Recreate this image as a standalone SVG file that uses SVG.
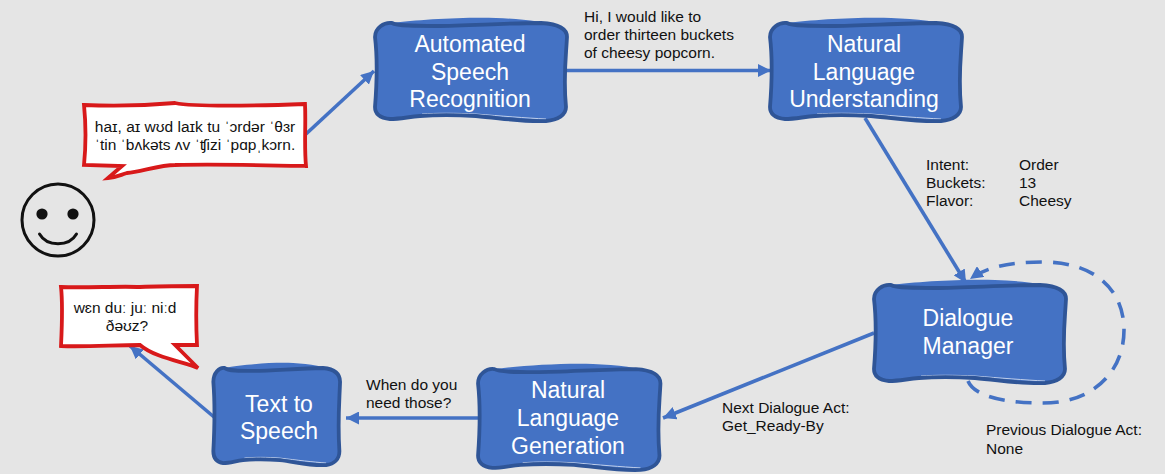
<svg xmlns="http://www.w3.org/2000/svg" width="1165" height="474" viewBox="0 0 1165 474">
<style>
text{font-family:"Liberation Sans",Arial,sans-serif}
.n{font-size:23px;fill:#fff;text-anchor:middle}
.l{font-size:15.500px;fill:#111}
.i{font-size:15.500px;fill:#111;text-anchor:middle}
.c{fill:none;stroke:#4472c4;stroke-width:3.600}
.b{fill:#fff;stroke:#d8191a;stroke-width:3.800;stroke-linejoin:miter}
.bf{fill:#4472c4}
.bs{fill:none;stroke:#2f5597;stroke-width:3.800;vector-effect:non-scaling-stroke}
.bw{fill:none;stroke:#f4f6fa;stroke-width:1;opacity:.7;vector-effect:non-scaling-stroke}
</style>
<defs>
<marker id="a" markerUnits="userSpaceOnUse" markerWidth="14" markerHeight="13" refX="13" refY="6.500" orient="auto"><path d="M0 0L13 6.500L0 13Z" fill="#4472c4"/></marker>
<g id="blob">
<path class="bf" d="M-1 15C-1 6 8 0 16 1C40 -2 85 -5 120 -4C145 -3 170 -1 185 6C190 9 191 12 191 15C190 35 187 55 190 85C190 93 182 98 170 99C145 100 125 95 100 93C80 92 60 92 44 93C32 94 24 97 14 97C4 96 -1 92 -1 85C1 60 2 40 -1 15Z"/>
<path class="bw" d="M46 92C60 91 80 91 100 92C125 94 150 96 170 97"/>
<path class="bs" d="M-1 15C-1 6 8 0 16 1C21 4 40 4 60 4C90 4 130 1 165 1C182 2 191 6 191 15C190 35 187 55 190 85C190 93 182 98 170 99C145 100 125 96 100 94C80 93 60 93 44 94C32 95 24 97 14 97C4 96 -1 92 -1 85C1 60 2 40 -1 15Z"/>
</g>
</defs>
<rect width="1165" height="474" fill="#e5e5e5"/>
<g id="connectors">
<path class="c" marker-end="url(#a)" d="M306 134L374 71"/>
<path class="c" marker-end="url(#a)" d="M566 70.500L771 70.500"/>
<path class="c" marker-end="url(#a)" d="M865 118L966 283"/>
<path class="c" marker-end="url(#a)" d="M874 333L663 418"/>
<path class="c" marker-end="url(#a)" d="M478 418L346 418"/>
<path class="c" marker-end="url(#a)" d="M214 417L130 346"/>
<path class="c" stroke-dasharray="16 11" marker-end="url(#a)" d="M968 381C975 398 1010 403 1043 403C1095 403 1124 370 1124 330C1124 290 1095 262 1043 262C1015 262 990 265 970 279"/>
</g>
<g id="user">
<circle cx="58" cy="220" r="36" fill="none" stroke="#111" stroke-width="3"/>
<circle cx="42" cy="214" r="5.600" fill="#111"/>
<circle cx="73" cy="214" r="5.600" fill="#111"/>
<path d="M39.500 234C47 247 69 247 76.500 234" fill="none" stroke="#111" stroke-width="3" stroke-linecap="round"/>
</g>
<g id="bubble-user">
<path class="b" d="M84 105C110 106 140 106 175 103C195 107 250 106 305 104C306 125 304 145 306 166C260 165 215 164 175 165C160 165 140 172 127 173C120 175 118 177 108 178L122 166L84 165C86 145 86 125 84 105Z"/>
<text class="i" x="195" y="132">haɪ, aɪ wʊd laɪk tu ˈɔrdər ˈθɜr</text>
<text class="i" x="195" y="150">ˈtin ˈbʌkəts ʌv ˈʧizi ˈpɑpˌkɔrn.</text>
</g>
<g id="bubble-system">
<path class="b" d="M61 287C85 288 120 286 140 287C160 286 180 286 197 286C196 305 196 325 197 345L175 345L198 368C185 362 155 358 140 345C115 345 85 347 61 346C62 325 63 305 61 287Z"/>
<text class="i" x="125" y="313">wɛn duː juː niːd</text>
<text class="i" x="127" y="331">ðəʊz?</text>
</g>
<g id="asr">
<use href="#blob" transform="translate(376 22)"/>
<text class="n" x="470" y="52">Automated</text>
<text class="n" x="470" y="79.500">Speech</text>
<text class="n" x="470" y="107">Recognition</text>
</g>
<g id="nlu">
<use href="#blob" transform="translate(771 22)"/>
<text class="n" x="864" y="52">Natural</text>
<text class="n" x="864" y="79.500">Language</text>
<text class="n" x="864" y="107">Understanding</text>
</g>
<g id="dm">
<use href="#blob" transform="translate(875 284)"/>
<text class="n" x="968" y="326">Dialogue</text>
<text class="n" x="968" y="354">Manager</text>
</g>
<g id="nlg">
<use href="#blob" transform="translate(479 368) scale(.95 1.030)"/>
<text class="n" x="568" y="398">Natural</text>
<text class="n" x="568" y="425.500">Language</text>
<text class="n" x="568" y="453.500">Generation</text>
</g>
<g id="tts">
<use href="#blob" transform="translate(214 367) scale(.66 .99)"/>
<text class="n" x="279" y="412">Text to</text>
<text class="n" x="279" y="439">Speech</text>
</g>
<g id="labels">
<text class="l" x="584" y="22">Hi, I would like to</text>
<text class="l" x="584" y="40">order thirteen buckets</text>
<text class="l" x="584" y="58">of cheesy popcorn.</text>
<text class="l" x="926" y="170">Intent:</text><text class="l" x="1019" y="170">Order</text>
<text class="l" x="926" y="188">Buckets:</text><text class="l" x="1019" y="188">13</text>
<text class="l" x="926" y="206">Flavor:</text><text class="l" x="1019" y="206">Cheesy</text>
<text class="l" x="722" y="413">Next Dialogue Act:</text>
<text class="l" x="722" y="431">Get_Ready-By</text>
<text class="l" x="986" y="435">Previous Dialogue Act:</text>
<text class="l" x="986" y="454">None</text>
<text class="l" x="366" y="390">When do you</text>
<text class="l" x="366" y="408">need those?</text>
</g>
</svg>
